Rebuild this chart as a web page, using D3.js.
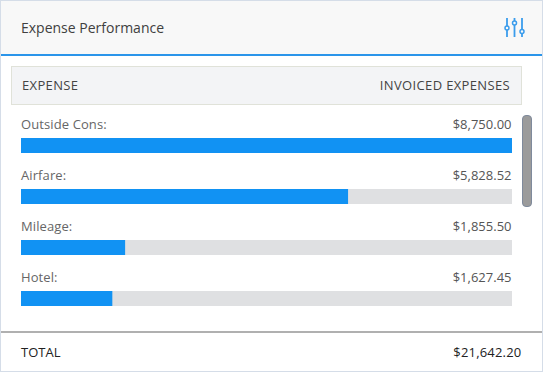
<!DOCTYPE html>
<html>
<head>
<meta charset="utf-8">
<script src="https://cdn.jsdelivr.net/npm/d3@7"></script>
<style>
html, body { margin: 0; padding: 0; background: #fff; }
svg { display: block; font-family: "Open Sans", sans-serif; }
</style>
</head>
<body>
<div id="chart"></div>
<script>
let categories = ["Outside Cons:", "Airfare:", "Mileage:", "Hotel:"];
let values = [8750.00, 5828.52, 1855.50, 1627.45];
let title = "Expense Performance";
let columnLabels = ["EXPENSE", "INVOICED EXPENSES"];
let totalLabel = "TOTAL";
let totalValue = 21642.20;

let width = 543, height = 372;
let money = d3.format("$,.2f");

let svg = d3.select("#chart").append("svg")
	.attr("width", width)
	.attr("height", height);

// card background and border
svg.append("rect").attr("width", width).attr("height", height).attr("fill", "#d5dde8");
svg.append("rect").attr("x", 1).attr("y", 1).attr("width", width - 2).attr("height", height - 2).attr("fill", "#fff");

// header
svg.append("rect").attr("x", 1).attr("y", 1).attr("width", width - 2).attr("height", 53).attr("fill", "#f8f8f8");
svg.append("rect").attr("x", 1).attr("y", 54).attr("width", width - 2).attr("height", 2).attr("fill", "#2b95ea");
svg.append("text").attr("x", 21).attr("y", 33)
	.attr("font-size", 14).attr("fill", "#404040").text(title);

// settings icon
let icon = svg.append("g").attr("fill", "none").attr("stroke", "#3a9cec").attr("stroke-width", 1.8);
[[507, 28], [514.5, 23], [522, 31.5]].forEach(d => {
	icon.append("line").attr("x1", d[0]).attr("x2", d[0]).attr("y1", 18).attr("y2", 37);
	icon.append("circle").attr("cx", d[0]).attr("cy", d[1]).attr("r", 2).attr("fill", "#f8f8f8").attr("stroke-width", 1.5);
});

// column header
svg.append("rect").attr("x", 11.5).attr("y", 66.5).attr("width", 510).attr("height", 38)
	.attr("fill", "#f3f4f6").attr("stroke", "#e0e2d9");
svg.append("text").attr("x", 22).attr("y", 90)
	.attr("font-size", 13).attr("letter-spacing", 0.35).attr("fill", "#444").text(columnLabels[0]);
svg.append("text").attr("x", 510).attr("y", 90).attr("text-anchor", "end")
	.attr("font-size", 13).attr("letter-spacing", 0.35).attr("fill", "#444").text(columnLabels[1]);

// bars
let x = d3.scaleLinear().domain([0, d3.max(values)]).range([21, 512]);
let y = d3.scaleBand().domain(categories).range([138, 342]).paddingInner(0).align(0);
let barHeight = 15;

let rows = svg.selectAll(".row").data(categories).enter().append("g")
	.attr("class", "row")
	.attr("transform", d => "translate(0," + y(d) + ")");

rows.append("rect").attr("x", x(0)).attr("width", x.range()[1] - x(0)).attr("height", barHeight)
	.attr("fill", "#dfe0e2");
rows.append("rect").attr("x", x(0)).attr("width", (d, i) => x(values[i]) - x(0)).attr("height", barHeight)
	.attr("fill", "#1192f3");
rows.append("text").attr("x", 21).attr("y", -9)
	.attr("font-size", 13).attr("letter-spacing", 0.1).attr("fill", "#666").text(d => d);
rows.append("text").attr("x", 511.5).attr("y", -9).attr("text-anchor", "end")
	.attr("font-size", 13).attr("fill", "#555").text((d, i) => money(values[i]));

// scrollbar
svg.append("rect").attr("x", 522.5).attr("y", 115.5).attr("width", 9).attr("height", 91).attr("rx", 3.5)
	.attr("fill", "#9b9b9b").attr("stroke", "#7f8a9c");

// footer
svg.append("rect").attr("x", 1).attr("y", 331).attr("width", width - 2).attr("height", 2).attr("fill", "#b0b0b0");
svg.append("text").attr("x", 21).attr("y", 357)
	.attr("font-size", 13).attr("fill", "#222").text(totalLabel);
svg.append("text").attr("x", 521.5).attr("y", 357).attr("text-anchor", "end")
	.attr("font-size", 13).attr("letter-spacing", 0.2).attr("font-weight", 500).attr("fill", "#222").text(money(totalValue));
</script>
</body>
</html>
